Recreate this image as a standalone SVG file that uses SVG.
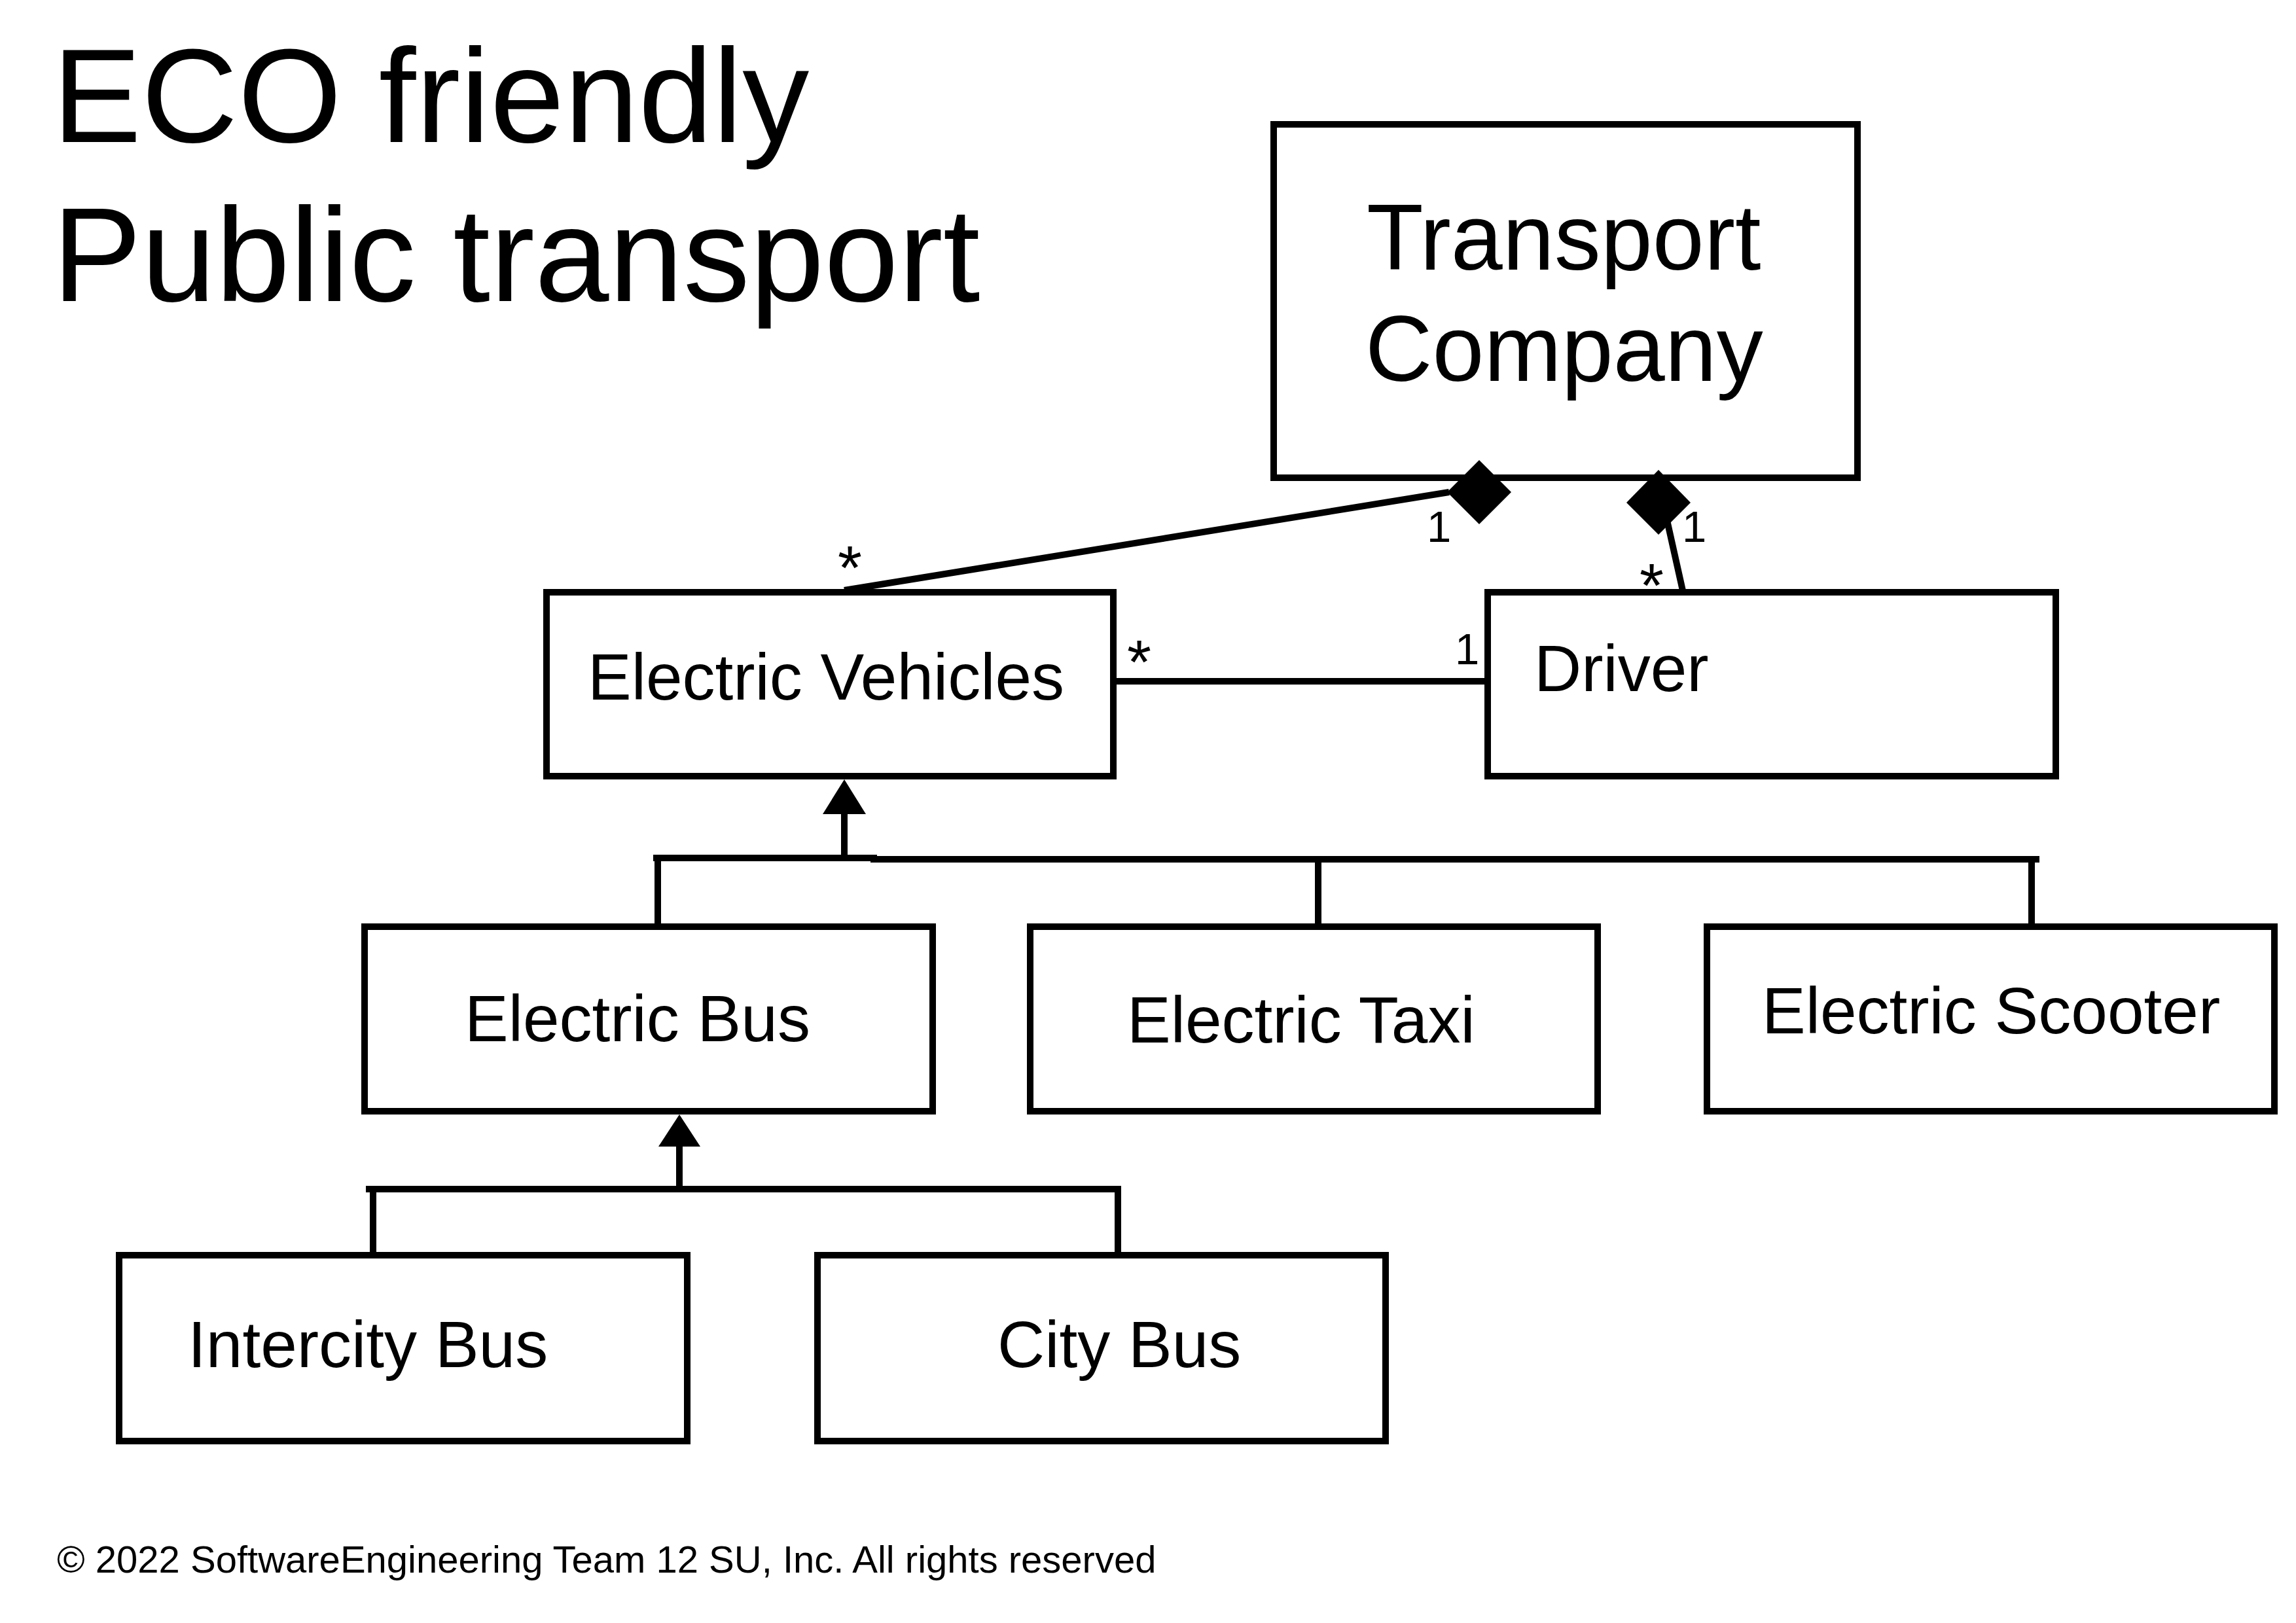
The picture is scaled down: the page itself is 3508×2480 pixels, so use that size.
<svg xmlns="http://www.w3.org/2000/svg" width="3508" height="2480" viewBox="0 0 3508 2480">
<style>
text{font-family:"Liberation Sans",Arial,sans-serif;fill:#000}
.box{fill:#fff;stroke:#000;stroke-width:10}
.lbl{font-size:100px}
.ln{stroke:#000;stroke-width:10;fill:none}
.m1{font-size:67px}
.ms{font-size:95px}
.tri{fill:#000}
</style>
<rect width="3508" height="2480" fill="#fff"/>
<g id="title">
<text x="80" y="217" font-size="204">ECO friendly</text>
<text x="80" y="460" font-size="204">Public transport</text>
</g>
<g id="connectors">
<line class="ln" x1="1290" y1="902" x2="2214" y2="752"/>
<line class="ln" x1="2541" y1="768" x2="2572" y2="907"/>
<line class="ln" x1="1701" y1="1041" x2="2273" y2="1041"/>
<line class="ln" x1="1290" y1="1240" x2="1290" y2="1312"/>
<polyline class="ln" points="998,1311 1335,1311 1335,1313 3116,1313"/>
<line class="ln" x1="1005" y1="1311" x2="1005" y2="1416"/>
<line class="ln" x1="2014" y1="1313" x2="2014" y2="1416"/>
<line class="ln" x1="3104" y1="1313" x2="3104" y2="1416"/>
<line class="ln" x1="1038" y1="1748" x2="1038" y2="1817"/>
<line class="ln" x1="559" y1="1817" x2="1713" y2="1817"/>
<line class="ln" x1="570" y1="1817" x2="570" y2="1918"/>
<line class="ln" x1="1708" y1="1817" x2="1708" y2="1918"/>
</g>
<g id="transport-company">
<rect class="box" x="1946" y="190" width="892" height="540"/>
<text x="2088" y="412" font-size="142">Transport</text>
<text x="2086" y="582" font-size="142">Company</text>
</g>
<g id="electric-vehicles">
<rect class="box" x="835" y="905" width="866" height="281"/>
<text class="lbl" x="898" y="1069">Electric Vehicles</text>
</g>
<g id="driver">
<rect class="box" x="2273" y="905" width="868" height="281"/>
<text class="lbl" x="2344" y="1056">Driver</text>
</g>
<g id="electric-bus">
<rect class="box" x="557" y="1416" width="868" height="282"/>
<text class="lbl" x="710" y="1591">Electric Bus</text>
</g>
<g id="electric-taxi">
<rect class="box" x="1574" y="1416" width="867" height="282"/>
<text class="lbl" x="1722" y="1593">Electric Taxi</text>
</g>
<g id="electric-scooter">
<rect class="box" x="2608" y="1416" width="867" height="282"/>
<text class="lbl" x="2692" y="1579">Electric Scooter</text>
</g>
<g id="intercity-bus">
<rect class="box" x="182" y="1918" width="868" height="284"/>
<text class="lbl" x="287" y="2089">Intercity Bus</text>
</g>
<g id="city-bus">
<rect class="box" x="1249" y="1918" width="868" height="284"/>
<text class="lbl" x="1524" y="2089">City Bus</text>
</g>
<g id="markers">
<polygon class="tri" points="2260,703 2309,752 2260,801 2211,752"/>
<polygon class="tri" points="2534,718 2583,768 2534,817 2485,768"/>
<polygon class="tri" points="1290,1191 1323,1244 1257,1244"/>
<polygon class="tri" points="1038,1703 1070,1752 1006,1752"/>
</g>
<g id="multiplicities">
<text class="ms" x="1280" y="900">*</text>
<text class="ms" x="1722" y="1044">*</text>
<text class="ms" x="2505" y="927">*</text>
<text class="m1" x="2180" y="828">1</text>
<text class="m1" x="2570" y="828">1</text>
<text class="m1" x="2223" y="1015">1</text>
</g>
<g id="footer">
<text x="87" y="2403" font-size="58">© 2022 SoftwareEngineering Team 12 SU, Inc. All rights reserved</text>
</g>
</svg>
